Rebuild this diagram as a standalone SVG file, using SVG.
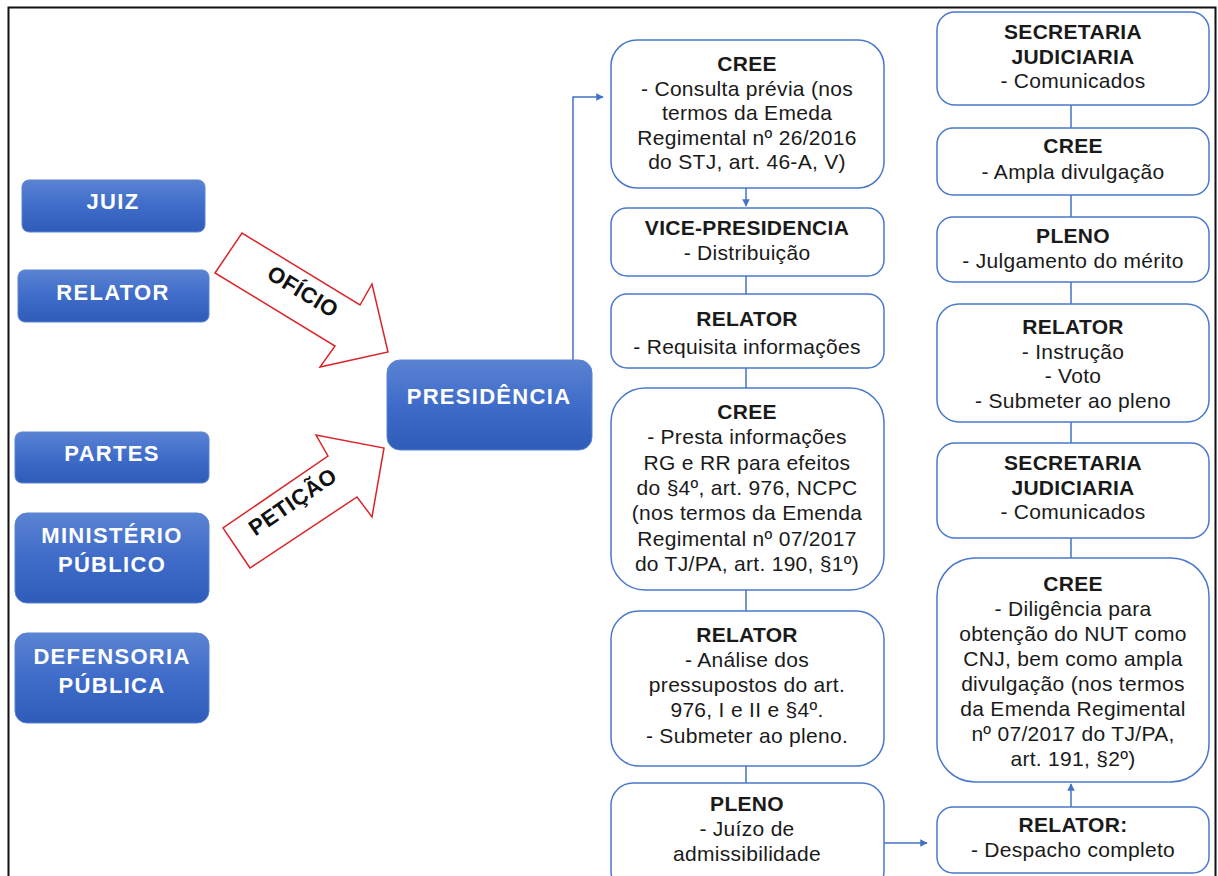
<svg xmlns="http://www.w3.org/2000/svg" width="1218" height="876" viewBox="0 0 1218 876">
<defs>
<linearGradient id="bg" x1="0" y1="0" x2="0" y2="1">
<stop offset="0" stop-color="#5a83d3"/>
<stop offset="0.5" stop-color="#3f6cc9"/>
<stop offset="1" stop-color="#2f5cb9"/>
</linearGradient>
<marker id="ah" viewBox="0 0 10 10" refX="9" refY="5" markerWidth="5" markerHeight="5" orient="auto">
<path d="M0,0 L10,5 L0,10 z" fill="#4472c4"/>
</marker>
<style>
.blue{fill:url(#bg);stroke:#5b84d0;stroke-width:1}
.bt{font-family:"Liberation Sans",Arial,sans-serif;font-weight:bold;font-size:22px;letter-spacing:1.3px;fill:#ffffff;text-anchor:middle}
.box{fill:#ffffff;stroke:#4a78cc;stroke-width:1.5}
.t{font-family:"Liberation Sans",Arial,sans-serif;font-size:21px;letter-spacing:0.3px;fill:#1a1a1a;text-anchor:middle}
.h{font-weight:bold}
.ln{stroke:#4472c4;stroke-width:1.5;fill:none}
.blk{fill:#ffffff;stroke:#d9262b;stroke-width:1.5}
.at{font-family:"Liberation Sans",Arial,sans-serif;font-weight:bold;font-size:22px;letter-spacing:0.5px;fill:#111111;text-anchor:middle}
</style>
</defs>
<rect x="0" y="0" width="1218" height="876" fill="#ffffff"/>
<path d="M8.5,880 L8.5,7.5 L1215.5,7.5 L1215.5,880" fill="none" stroke="#111111" stroke-width="2"/>

<g id="connectors">
<polyline class="ln" points="573,360 573,97 603,97" marker-end="url(#ah)"/>
<line class="ln" x1="746" y1="188" x2="746" y2="206" marker-end="url(#ah)"/>
<line class="ln" x1="746" y1="276" x2="746" y2="294"/>
<line class="ln" x1="746" y1="368" x2="746" y2="388"/>
<line class="ln" x1="746" y1="590" x2="746" y2="611"/>
<line class="ln" x1="746" y1="766" x2="746" y2="783"/>
<line class="ln" x1="884" y1="843" x2="927" y2="843" marker-end="url(#ah)"/>
<line class="ln" x1="1071" y1="807" x2="1071" y2="784" marker-end="url(#ah)"/>
<line class="ln" x1="1071" y1="105" x2="1071" y2="128"/>
<line class="ln" x1="1071" y1="195" x2="1071" y2="217"/>
<line class="ln" x1="1071" y1="282" x2="1071" y2="304"/>
<line class="ln" x1="1071" y1="422" x2="1071" y2="443"/>
<line class="ln" x1="1071" y1="538" x2="1071" y2="558"/>
</g>

<g id="oficio">
<polygon class="blk" points="215,273 242,233 360,305 372,284 388,352 320,367 335,346"/>
<text class="at" transform="translate(299,298) rotate(31.4)">OFÍCIO</text>
</g>
<g id="peticao">
<polygon class="blk" points="250,568 223,528 328,456 316,435 384,448 372,517 357,497"/>
<text class="at" transform="translate(297,508) rotate(-34.4)">PETIÇÃO</text>
</g>

<g id="juiz"><rect class="blue" x="22" y="180" width="183" height="52" rx="7"/><text class="bt" x="113" y="209">JUIZ</text></g>
<g id="relator-left"><rect class="blue" x="18" y="270" width="191" height="52" rx="7"/><text class="bt" x="113" y="300">RELATOR</text></g>
<g id="partes"><rect class="blue" x="15" y="432" width="194" height="51" rx="7"/><text class="bt" x="112" y="461">PARTES</text></g>
<g id="ministerio"><rect class="blue" x="15" y="513" width="194" height="90" rx="12"/><text class="bt" x="112" y="543">MINISTÉRIO</text><text class="bt" x="112" y="572">PÚBLICO</text></g>
<g id="defensoria"><rect class="blue" x="15" y="633" width="194" height="90" rx="12"/><text class="bt" x="112" y="664">DEFENSORIA</text><text class="bt" x="112" y="693">PÚBLICA</text></g>
<g id="presidencia"><rect class="blue" x="387" y="360" width="205" height="90" rx="13"/><text class="bt" x="489" y="404">PRESIDÊNCIA</text></g>

<g id="cree1"><rect class="box" x="611" y="40" width="273" height="148" rx="26"/>
<text class="t" x="747" y="71"><tspan class="h">CREE</tspan><tspan x="747" dy="24.5">- Consulta prévia (nos</tspan><tspan x="747" dy="24.5">termos da Emeda</tspan><tspan x="747" dy="24.5">Regimental nº 26/2016</tspan><tspan x="747" dy="24.5">do STJ, art. 46-A, V)</tspan></text></g>
<g id="vice"><rect class="box" x="611" y="208" width="273" height="68" rx="16"/>
<text class="t" x="747" y="235"><tspan class="h">VICE-PRESIDENCIA</tspan><tspan x="747" dy="24.5">- Distribuição</tspan></text></g>
<g id="relator1"><rect class="box" x="611" y="294" width="273" height="74" rx="16"/>
<text class="t" x="747" y="326"><tspan class="h">RELATOR</tspan><tspan x="747" dy="28">- Requisita informações</tspan></text></g>
<g id="cree2"><rect class="box" x="611" y="388" width="273" height="202" rx="34"/>
<text class="t" x="747" y="419"><tspan class="h">CREE</tspan><tspan x="747" dy="25.3">- Presta informações</tspan><tspan x="747" dy="25.3">RG e RR para efeitos</tspan><tspan x="747" dy="25.3">do §4º, art. 976, NCPC</tspan><tspan x="747" dy="25.3">(nos termos da Emenda</tspan><tspan x="747" dy="25.3">Regimental nº 07/2017</tspan><tspan x="747" dy="25.3">do TJ/PA, art. 190, §1º)</tspan></text></g>
<g id="relator2"><rect class="box" x="611" y="611" width="273" height="155" rx="28"/>
<text class="t" x="747" y="642"><tspan class="h">RELATOR</tspan><tspan x="747" dy="25">- Análise dos</tspan><tspan x="747" dy="25">pressupostos do art.</tspan><tspan x="747" dy="25">976, I e II e §4º.</tspan><tspan x="747" dy="26">- Submeter ao pleno.</tspan></text></g>
<g id="pleno1"><rect class="box" x="611" y="783" width="273" height="110" rx="22"/>
<text class="t" x="747" y="811"><tspan class="h">PLENO</tspan><tspan x="747" dy="25">- Juízo de</tspan><tspan x="747" dy="25">admissibilidade</tspan></text></g>

<g id="secretaria1"><rect class="box" x="937" y="12" width="272" height="93" rx="18"/>
<text class="t" x="1073" y="39"><tspan class="h">SECRETARIA</tspan><tspan class="h" x="1073" dy="24.5">JUDICIARIA</tspan><tspan x="1073" dy="24.5">- Comunicados</tspan></text></g>
<g id="cree3"><rect class="box" x="937" y="128" width="272" height="67" rx="16"/>
<text class="t" x="1073" y="153"><tspan class="h">CREE</tspan><tspan x="1073" dy="26">- Ampla divulgação</tspan></text></g>
<g id="pleno2"><rect class="box" x="937" y="217" width="272" height="65" rx="16"/>
<text class="t" x="1073" y="243"><tspan class="h">PLENO</tspan><tspan x="1073" dy="25">- Julgamento do mérito</tspan></text></g>
<g id="relator3"><rect class="box" x="937" y="304" width="272" height="118" rx="22"/>
<text class="t" x="1073" y="334"><tspan class="h">RELATOR</tspan><tspan x="1073" dy="24.5">- Instrução</tspan><tspan x="1073" dy="24.5">- Voto</tspan><tspan x="1073" dy="24.5">- Submeter ao pleno</tspan></text></g>
<g id="secretaria2"><rect class="box" x="937" y="443" width="272" height="95" rx="18"/>
<text class="t" x="1073" y="470"><tspan class="h">SECRETARIA</tspan><tspan class="h" x="1073" dy="24.5">JUDICIARIA</tspan><tspan x="1073" dy="24.5">- Comunicados</tspan></text></g>
<g id="cree4"><rect class="box" x="937" y="558" width="272" height="224" rx="38"/>
<text class="t" x="1073" y="591"><tspan class="h">CREE</tspan><tspan x="1073" dy="25">- Diligência para</tspan><tspan x="1073" dy="25">obtenção do NUT como</tspan><tspan x="1073" dy="25">CNJ, bem como ampla</tspan><tspan x="1073" dy="25">divulgação (nos termos</tspan><tspan x="1073" dy="25">da Emenda Regimental</tspan><tspan x="1073" dy="25">nº 07/2017 do TJ/PA,</tspan><tspan x="1073" dy="25">art. 191, §2º)</tspan></text></g>
<g id="relator4"><rect class="box" x="937" y="807" width="272" height="66" rx="16"/>
<text class="t" x="1073" y="832"><tspan class="h">RELATOR:</tspan><tspan x="1073" dy="25">- Despacho completo</tspan></text></g>
</svg>
